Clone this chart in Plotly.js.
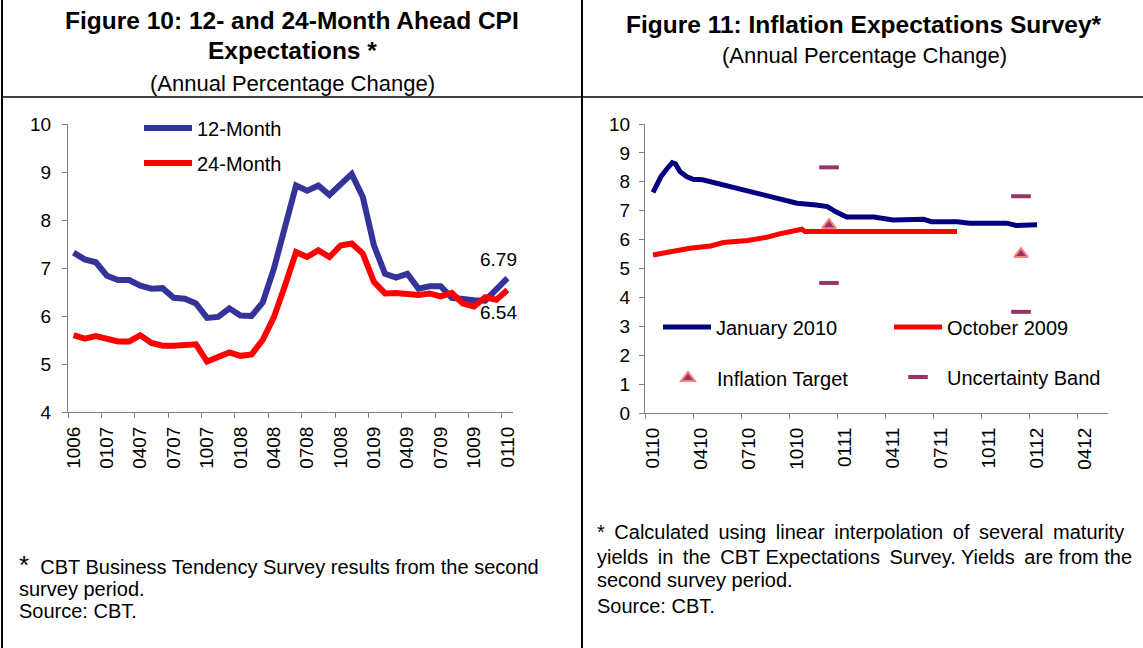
<!DOCTYPE html>
<html>
<head>
<meta charset="utf-8">
<script src="https://cdn.plot.ly/plotly-3.0.1.min.js"></script>
<style>html,body{margin:0;padding:0;background:#fff;}#chart{width:1143px;height:648px;}</style>
</head>
<body>
<div id="chart"></div>
<script>
// ---------- Figure 10 data ----------
const months10 = ['1006','1106','1206','0107','0207','0307','0407','0507','0607','0707','0807','0907','1007','1107','1207','0108','0208','0308','0408','0508','0608','0708','0808','0908','1008','1108','1208','0109','0209','0309','0409','0509','0609','0709','0809','0909','1009','1109','1209','0110'];
const month12 = [7.32,7.18,7.12,6.84,6.75,6.75,6.63,6.57,6.58,6.38,6.36,6.26,5.96,5.98,6.16,6.01,6.00,6.28,6.98,7.90,8.72,8.61,8.72,8.52,8.74,8.96,8.48,7.47,6.88,6.80,6.88,6.57,6.62,6.62,6.38,6.34,6.33,6.32,6.55,6.79];
const month24 = [5.60,5.53,5.58,5.51,5.47,5.47,5.60,5.44,5.38,5.38,5.41,5.41,5.05,5.13,5.24,5.17,5.20,5.50,5.97,6.63,7.33,7.23,7.37,7.23,7.47,7.51,7.30,6.71,6.47,6.48,6.47,6.44,6.47,6.41,6.48,6.26,6.20,6.39,6.34,6.54];

// ---------- Figure 11 data (x = months ahead of 0110) ----------
const ticks11 = ['0110','0410','0710','1010','0111','0411','0711','1011','0112','0412'];
const jan2010X = [0,0.5,0.9,1.2,1.4,1.7,2.1,2.5,3.1,6.1,7.5,9.0,10.2,10.9,11.4,12.1,13.8,15.0,16.9,17.4,19.0,19.8,22.1,22.7,24.0];
const jan2010Y = [7.63,8.18,8.47,8.66,8.62,8.35,8.18,8.09,8.07,7.66,7.49,7.26,7.20,7.14,6.97,6.78,6.78,6.68,6.70,6.62,6.62,6.57,6.57,6.49,6.51];
const oct2009X = [0,2.3,3.6,4.4,5.9,7.1,7.9,8.8,9.3,9.5,19.0];
const oct2009Y = [5.47,5.70,5.78,5.90,5.97,6.08,6.20,6.31,6.36,6.28,6.28];
const targetMonths = ['1210','1211'];
const targetValues = [6.5, 5.5];
const bandMonths = ['1210','1210','1211','1211'];
const bandValues = [8.5, 4.5, 7.5, 3.5];

function monthsAhead(code){ // offset from 0110
  const m = parseInt(code.slice(0,2),10), y = parseInt(code.slice(2),10);
  return (y-10)*12 + (m-1);
}

const W = 1143, H = 648;
const px = v => v / W;
const py = v => 1 - v / H;
const FONT = 'Liberation Sans, Arial, sans-serif';
const AX = '#808080';
const TS = '\u2009'; // thin space used to imitate justified text

const idx10 = months10.map((_, i) => i);
const lab10Pos = idx10.filter(i => i % 3 === 0);
const lab10 = lab10Pos.map(i => months10[i]);
const tick10Pos = lab10Pos.map(i => i - 0.5);
const lab11Pos = ticks11.map(monthsAhead);
const tick11Pos = lab11Pos.map(v => v - 0.5);

const traces = [
  {x: idx10, y: month12, name: '12-Month', type: 'scatter', mode: 'lines', xaxis: 'x', yaxis: 'y',
   line: {color: '#333399', width: 6}, legend: 'legend'},
  {x: idx10, y: month24, name: '24-Month', type: 'scatter', mode: 'lines', xaxis: 'x', yaxis: 'y',
   line: {color: '#FF0000', width: 6}, legend: 'legend2'},
  {x: jan2010X, y: jan2010Y, name: 'January 2010', type: 'scatter', mode: 'lines', xaxis: 'x2', yaxis: 'y2',
   line: {color: '#000080', width: 5}, legend: 'legend3'},
  {x: oct2009X, y: oct2009Y, name: 'October 2009', type: 'scatter', mode: 'lines', xaxis: 'x2', yaxis: 'y2',
   line: {color: '#FF0000', width: 5}, legend: 'legend4'},
  {x: targetMonths.map(monthsAhead), y: targetValues, name: 'Inflation Target', type: 'scatter', mode: 'markers', xaxis: 'x2', yaxis: 'y2',
   marker: {symbol: 'triangle-up', size: 12, color: '#993366', line: {color: '#FF8080', width: 2}}, legend: 'legend5'},
  {x: bandMonths.map(monthsAhead), y: bandValues, name: 'Uncertainty Band', type: 'scatter', mode: 'markers', xaxis: 'x2', yaxis: 'y2',
   marker: {symbol: 'line-ew', size: 14, color: '#993366', line: {color: '#993366', width: 4}}, legend: 'legend6'}
];

function xAxis(domain, range, anchor, labPos, labText, tickPos) {
  return {domain: domain, range: range, anchor: anchor, showgrid: false, zeroline: false,
    showline: true, linecolor: AX, linewidth: 1, ticks: '', tickmode: 'array',
    tickvals: labPos, ticktext: labText, tickangle: -90, ticklabelstandoff: 6,
    tickfont: {family: FONT, size: 19, color: '#000'},
    minor: {tickmode: 'array', tickvals: tickPos, ticks: 'outside', ticklen: 5, tickcolor: AX, showgrid: false},
    fixedrange: true};
}
function yAxis(domain, range, anchor, standoff) {
  return {domain: domain, range: range, dtick: 1, tick0: range[0], showgrid: false, zeroline: false,
    showline: true, linecolor: AX, ticks: 'outside', ticklen: 5, tickcolor: AX, anchor: anchor,
    ticklabelstandoff: standoff, tickfont: {family: FONT, size: 19, color: '#000'}, fixedrange: true};
}

const legendBase = {bgcolor: 'rgba(0,0,0,0)', borderwidth: 0, font: {family: FONT, size: 20, color: '#000'},
  xanchor: 'left', yanchor: 'middle', orientation: 'v', itemwidth: 48};

const L10 = [-0.5, 39.5];
const L11 = [-0.5, (1108 - 653) / 16];

function note(x, y, text, size) {
  return {xref: 'paper', yref: 'paper', x: px(x), y: py(y), text: text, showarrow: false,
    xanchor: 'left', yanchor: 'middle', font: {family: FONT, size: size || 20}};
}
function title(x, y, text, size) {
  return {xref: 'paper', yref: 'paper', x: px(x), y: py(y), text: text, showarrow: false,
    xanchor: 'center', yanchor: 'middle', font: {family: FONT, size: size}};
}

const line1 = ['*', 'Calculated', 'using', 'linear', 'interpolation', 'of', 'several', 'maturity'].join(' ' + TS);
const line2 = ['yields', 'in', 'the'].join(' ' + TS) + ' ' + TS + ['CBT', 'Expectations'].join(' ') + ' ' + TS +
  ['Survey.', 'Yields'].join(' ') + ' ' + TS + ['are', 'from', 'the'].join(' ');

const layout = {
  width: W, height: H, margin: {l: 0, r: 0, t: 0, b: 0},
  paper_bgcolor: '#fff', plot_bgcolor: 'rgba(0,0,0,0)',
  font: {family: FONT, size: 19, color: '#000'},
  showlegend: true,
  xaxis: xAxis([px(68), px(513)], L10, 'y', lab10Pos, lab10, tick10Pos),
  yaxis: yAxis([py(412), py(124)], [4, 10], 'x', 7),
  xaxis2: xAxis([px(645), px(1108)], L11, 'y2', lab11Pos, ticks11, tick11Pos),
  yaxis2: yAxis([py(413), py(124)], [0, 10], 'x2', 5),
  legend: Object.assign({}, legendBase, {x: px(139), y: py(128)}),
  legend2: Object.assign({}, legendBase, {x: px(139), y: py(163)}),
  legend3: Object.assign({}, legendBase, {x: px(658), y: py(327)}),
  legend4: Object.assign({}, legendBase, {x: px(889), y: py(327)}),
  legend5: Object.assign({}, legendBase, {x: px(659), y: py(378)}),
  legend6: Object.assign({}, legendBase, {x: px(889), y: py(377)}),
  shapes: [
    {type: 'line', xref: 'paper', yref: 'paper', x0: px(2), x1: px(2), y0: 0, y1: 1, line: {color: '#000', width: 2}},
    {type: 'line', xref: 'paper', yref: 'paper', x0: px(582), x1: px(582), y0: 0, y1: 1, line: {color: '#000', width: 2}},
    {type: 'line', xref: 'paper', yref: 'paper', x0: px(2), x1: 1, y0: py(97), y1: py(97), line: {color: '#000', width: 1.5}}
  ],
  annotations: [
    title(292, 20, '<b>Figure 10: 12- and 24-Month Ahead CPI</b>', 24.5),
    title(292, 50, '<b>Expectations *</b>', 24.5),
    title(292, 83, '(Annual Percentage Change)', 22),
    title(864, 25, '<b>Figure 11: Inflation Expectations Survey*</b>', 24.5),
    title(864, 55, '(Annual Percentage Change)', 22),
    {xref: 'x', yref: 'y', x: idx10[idx10.length-1], y: month12[month12.length-1], text: month12[month12.length-1].toFixed(2), showarrow: false, xanchor: 'center', yanchor: 'bottom', xshift: -9, yshift: 6, font: {family: FONT, size: 19}},
    {xref: 'x', yref: 'y', x: idx10[idx10.length-1], y: month24[month24.length-1], text: month24[month24.length-1].toFixed(2), showarrow: false, xanchor: 'center', yanchor: 'top', xshift: -9, yshift: -10, font: {family: FONT, size: 19}},
    note(17, 565, '<span style="font-size:26px">*</span>  CBT Business Tendency Survey results from the second'),
    note(17, 589, 'survey period.'),
    note(17, 611, 'Source: CBT.'),
    note(595, 532, line1),
    note(595, 557, line2),
    note(595, 580, 'second survey period.'),
    note(595, 606, 'Source: CBT.')
  ]
};

Plotly.newPlot('chart', traces, layout, {staticPlot: true, displayModeBar: false});
</script>
</body>
</html>
